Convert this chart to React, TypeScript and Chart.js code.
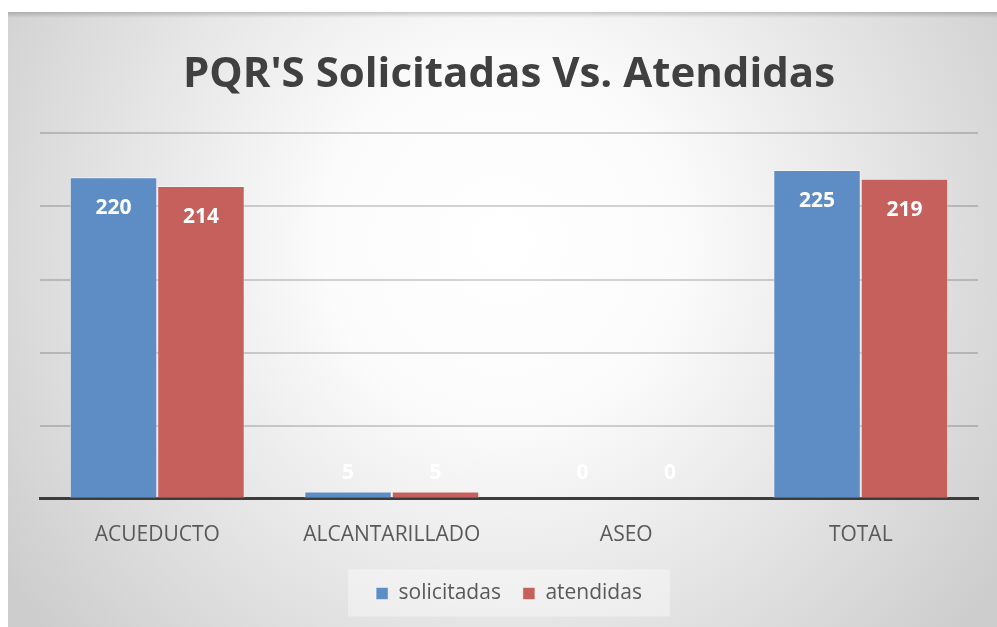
import React, { useEffect, useRef } from "react";
import { Chart, registerables } from "chart.js";

Chart.register(...registerables);

const categories = ["ACUEDUCTO", "ALCANTARILLADO", "ASEO", "TOTAL"];
const solicitadas = [220, 5, 0, 225];
const atendidas = [214, 5, 0, 219];
const seriesNames = ["solicitadas", "atendidas"];
const yTicks = [0, 50, 100, 150, 200, 250];
const titleText = "PQR'S Solicitadas Vs. Atendidas";

const BLUE = "#5e8dc6";
const RED = "#c5605d";

const backgroundPlugin = {
  id: "bgGradient",
  beforeDraw(chart: any) {
    const { ctx, width, height } = chart;
    ctx.save();
    const g = ctx.createRadialGradient(width / 2, 230, 0, width / 2, 230, 600);
    g.addColorStop(0, "#ffffff");
    g.addColorStop(0.3, "#fbfbfb");
    g.addColorStop(1, "#cdcdcd");
    ctx.fillStyle = g;
    ctx.fillRect(0, 0, width, height);
    const s = ctx.createLinearGradient(0, 0, 0, 6);
    s.addColorStop(0, "rgba(0,0,0,0.18)");
    s.addColorStop(1, "rgba(0,0,0,0)");
    ctx.fillStyle = s;
    ctx.fillRect(0, 0, width, 6);
    const lg = chart.legend;
    if (lg && lg.legendHitBoxes && lg.legendHitBoxes.length) {
      const hb = lg.legendHitBoxes;
      let l = Infinity, r = -Infinity, t = Infinity, b = -Infinity;
      hb.forEach((h: any) => {
        l = Math.min(l, h.left);
        r = Math.max(r, h.left + h.width);
        t = Math.min(t, h.top);
        b = Math.max(b, h.top + h.height);
      });
      const cy = (t + b) / 2;
      ctx.fillStyle = "rgba(255,255,255,0.38)";
      ctx.fillRect(l - 28, cy - 24, r - l + 56, 47);
    }
    ctx.restore();
  },
};

const dataLabelPlugin = {
  id: "dataLabels",
  afterDatasetsDraw(chart: any) {
    const { ctx } = chart;
    const base = chart.scales.y.getPixelForValue(0);
    ctx.save();
    ctx.font = "bold 21px 'Open Sans'";
    ctx.fillStyle = "#ffffff";
    ctx.textAlign = "center";
    ctx.textBaseline = "middle";
    chart.data.datasets.forEach((ds: any, di: number) => {
      const meta = chart.getDatasetMeta(di);
      meta.data.forEach((el: any, i: number) => {
        const y = Math.min(el.y + 31, base - 26);
        ctx.fillText(String(ds.data[i]), el.x, y);
      });
    });
    ctx.restore();
  },
};

export default function App() {
  const ref = useRef<HTMLCanvasElement>(null);
  useEffect(() => {
    if (!ref.current) return;
    const chart = new Chart(ref.current, {
      type: "bar",
      data: {
        labels: categories,
        datasets: [
          {
            label: seriesNames[0],
            data: solicitadas,
            backgroundColor: BLUE,
            borderColor: "rgba(255,255,255,0.45)",
            borderWidth: 1,
            barPercentage: 1,
            categoryPercentage: 0.746,
          },
          {
            label: seriesNames[1],
            data: atendidas,
            backgroundColor: RED,
            borderColor: "rgba(255,255,255,0.45)",
            borderWidth: 1,
            barPercentage: 1,
            categoryPercentage: 0.746,
          },
        ],
      },
      options: {
        responsive: false,
        animation: false,
        layout: { padding: { left: 32, right: 19, top: 0, bottom: 13 } },
        plugins: {
          title: {
            display: true,
            text: titleText,
            color: "#404040",
            font: { family: "'Open Sans', sans-serif", size: 42, weight: "bold" },
            padding: { top: 38, bottom: 33 },
          },
          legend: {
            position: "bottom",
            labels: {
              color: "#595959",
              font: { family: "'Open Sans'", size: 21 },
              boxWidth: 12,
              boxHeight: 12,
              padding: 22,
            },
          },
          tooltip: { enabled: false },
        },
        scales: {
          x: {
            grid: { display: false },
            border: { display: true, color: "#3c3c3c", width: 3 },
            ticks: { color: "#595959", font: { family: "'Open Sans'", size: 21 }, padding: 16 },
            afterFit: (s: any) => {
              s.height = s.height - 3;
            },
          },
          y: {
            min: 0,
            max: 250,
            afterBuildTicks: (s: any) => {
              s.ticks = yTicks.map((v) => ({ value: v }));
            },
            afterFit: (s: any) => {
              s.width = 0;
            },
            ticks: { display: false },
            grid: { color: "rgba(0,0,0,0.17)", lineWidth: 2, drawTicks: false },
            border: { display: false },
          },
        },
      },
      plugins: [backgroundPlugin, dataLabelPlugin],
    });
    return () => chart.destroy();
  }, []);
  return (
    <div style={{ position: "fixed", left: 8, top: 12, width: 989, height: 615 }}>
      <canvas ref={ref} width={989} height={615} style={{ width: 989, height: 615, display: "block" }} />
    </div>
  );
}
